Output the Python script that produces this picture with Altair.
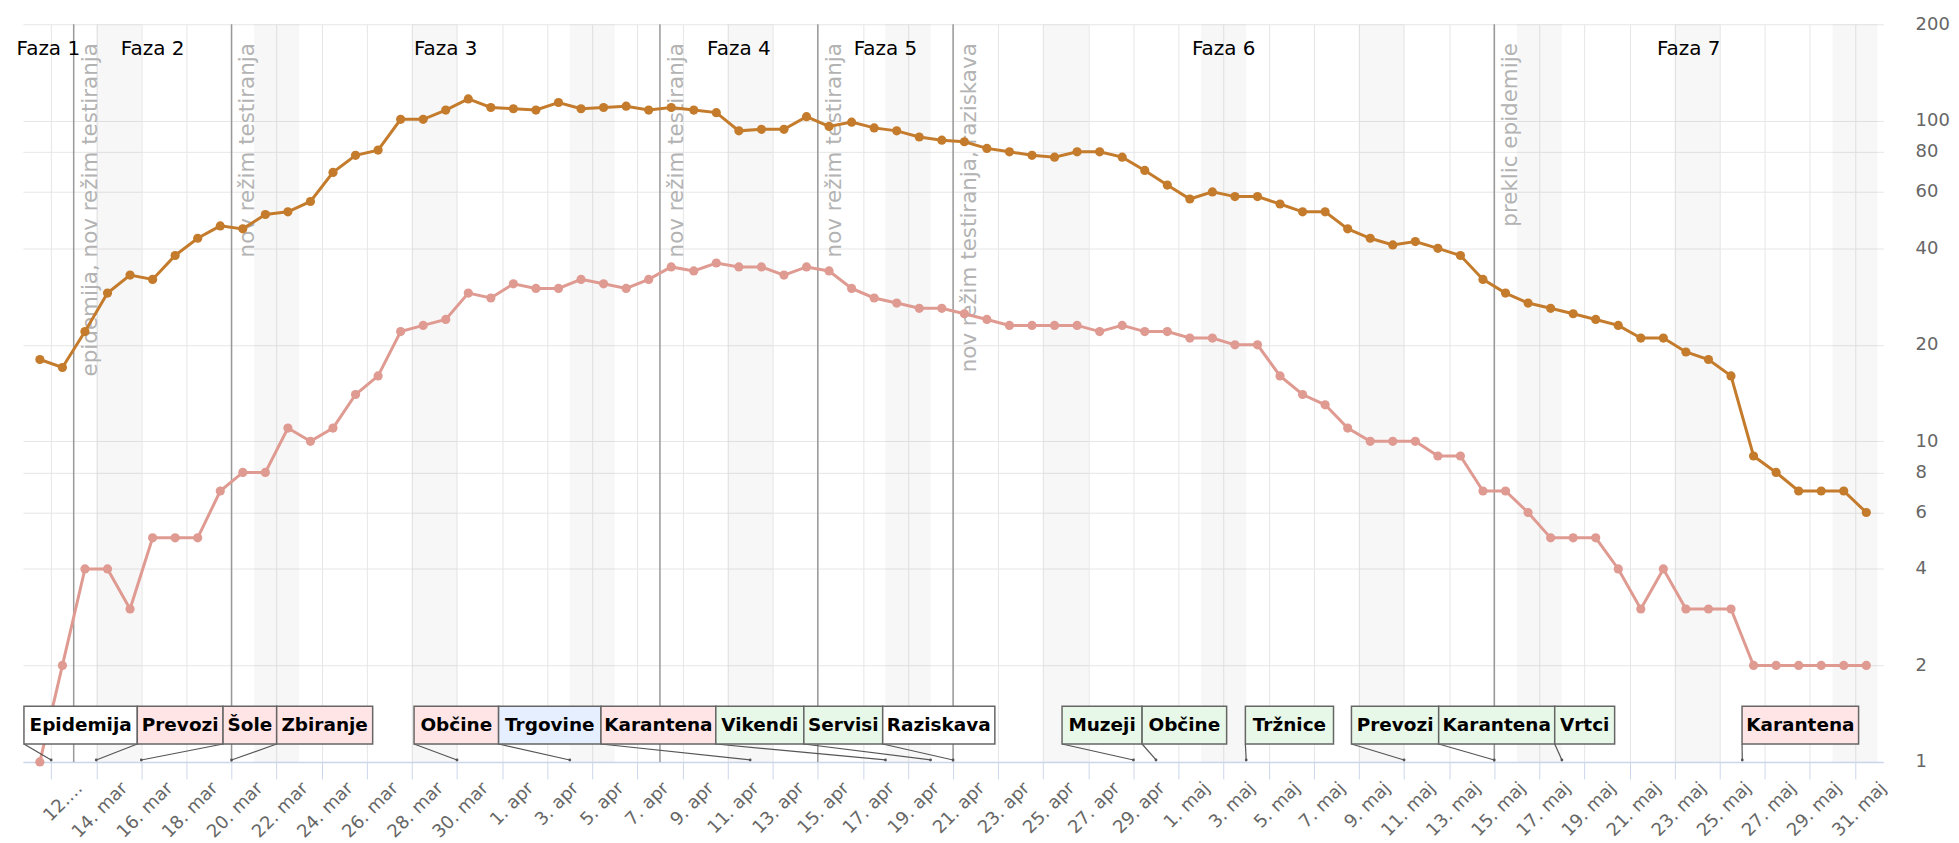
import json
import altair as alt
import pandas as pd

# ---------------- data ----------------
dates = pd.date_range("2020-03-11", "2020-05-31", freq="D")  # 82 days

hospitalizirani = [18, 17, 22, 29, 33, 32, 38, 43, 47, 46,
                   51, 52, 56, 69, 78, 81, 101, 101, 108, 117,
                   110, 109, 108, 114, 109, 110, 111, 108, 110, 108,
                   106, 93, 94, 94, 103, 96, 99, 95, 93, 89,
                   87, 86, 82, 80, 78, 77, 80, 80, 77, 70,
                   63, 57, 60, 58, 58, 55, 52, 52, 46, 43,
                   41, 42, 40, 38, 32, 29, 27, 26, 25, 24,
                   23, 21, 21, 19, 18, 16, 9, 8, 7, 7,
                   7, 6]
intenzivna = [1, 2, 4, 4, 3, 5, 5, 5, 7, 8,
              8, 11, 10, 11, 14, 16, 22, 23, 24, 29,
              28, 31, 30, 30, 32, 31, 30, 32, 35, 34,
              36, 35, 35, 33, 35, 34, 30, 28, 27, 26,
              26, 25, 24, 23, 23, 23, 23, 22, 23, 22,
              22, 21, 21, 20, 20, 16, 14, 13, 11, 10,
              10, 10, 9, 9, 7, 7, 6, 5, 5, 5,
              4, 3, 4, 3, 3, 3, 2, 2, 2, 2,
              2, 2]
serije = ["Hospitalizirani", "Intenzivna nega"]

crta_datumi = ["2020-03-13", "2020-03-20", "2020-04-08", "2020-04-15", "2020-04-21", "2020-05-15"]
crta_oznake = ["epidemija, nov režim testiranja", "nov režim testiranja", "nov režim testiranja",
               "nov režim testiranja", "nov režim testiranja, raziskava", "preklic epidemije"]
faze = ["Faza 1", "Faza 2", "Faza 3", "Faza 4", "Faza 5", "Faza 6", "Faza 7"]

ukrep_oznake = ["Epidemija", "Prevozi", "Šole", "Zbiranje", "Občine", "Trgovine", "Karantena",
                "Vikendi", "Servisi", "Raziskava", "Muzeji", "Občine", "Tržnice", "Prevozi",
                "Karantena", "Vrtci", "Karantena"]
ukrep_datumi = ["2020-03-12", "2020-03-14", "2020-03-16", "2020-03-20", "2020-03-30", "2020-04-04",
                "2020-04-12", "2020-04-18", "2020-04-20", "2020-04-21", "2020-04-29", "2020-04-30",
                "2020-05-04", "2020-05-11", "2020-05-15", "2020-05-18", "2020-05-26"]
ukrep_vrsta = ["info", "omejitev", "omejitev", "omejitev", "omejitev", "trgovine", "omejitev",
               "sprostitev", "sprostitev", "info", "sprostitev", "sprostitev", "sprostitev",
               "sprostitev", "sprostitev", "sprostitev", "omejitev"]

meseci = ["jan", "feb", "mar", "apr", "maj", "jun"]
tick_dates = pd.date_range("2020-03-12", "2020-05-31", freq="2D")
tick_labels = [f"{d.day}. {meseci[d.month - 1]}" for d in tick_dates]
tick_labels[0] = "12.…"

y_ticks = [1, 2, 4, 6, 8, 10, 20, 40, 60, 80, 100, 200]

# ---------------- layout (label placement) ----------------
W, H = 1866, 740
t0 = pd.Timestamp("2020-03-10 18:00")
t1 = pd.Timestamp("2020-06-01 06:00")
# annotation box edges in plot pixels (label layout)
box_levo = [1.0, 114.7, 200.7, 254.5, 392.3, 477.1, 579.8, 695.0, 783.3, 862.4,
            1042.3, 1122.6, 1226.2, 1332.6, 1420.1, 1536.5, 1724.4]
box_desno = [114.7, 200.7, 254.5, 350.8, 477.1, 579.8, 695.0, 783.3, 862.4, 974.9,
             1122.6, 1207.4, 1314.6, 1420.1, 1536.5, 1596.6, 1841.3]


def iso(t):
    return pd.Timestamp(t).strftime("%Y-%m-%dT%H:%M:%S")


def px_to_time(px):
    return t0 + (t1 - t0) * (px / W)


# ---------------- frames ----------------
rows = []
for s, vals in zip(serije, [hospitalizirani, intenzivna]):
    for d, v in zip(dates, vals):
        rows.append({"datum": iso(d + pd.Timedelta(hours=12)), "vrednost": v, "serija": s})
df = pd.DataFrame(rows)

sobote = [d for d in dates if d.weekday() == 5]
df_vikend = pd.DataFrame({"od": [iso(d) for d in sobote],
                          "do": [iso(d + pd.Timedelta(days=2)) for d in sobote]})

df_crte = pd.DataFrame({"datum": [iso(d) for d in crta_datumi], "oznaka": crta_oznake})

meje = [t0] + [pd.Timestamp(d) for d in crta_datumi] + [t1]
df_faze = pd.DataFrame({"sredina": [iso(meje[i] + (meje[i + 1] - meje[i]) / 2) for i in range(len(faze))],
                        "faza": faze})

df_ukrepi = pd.DataFrame({
    "naziv": ukrep_oznake,
    "dogodek": [iso(d) for d in ukrep_datumi],
    "vrsta": ukrep_vrsta,
    "levo": [iso(px_to_time(p)) for p in box_levo],
    "desno": [iso(px_to_time(p)) for p in box_desno],
    "sredina": [iso(px_to_time((a + b) / 2)) for a, b in zip(box_levo, box_desno)],
})

# ---------------- scales / axes ----------------
x_scale = alt.Scale(domain=[alt.DateTime(year=2020, month=3, date=10, hours=18),
                            alt.DateTime(year=2020, month=6, date=1, hours=6)])
label_expr = (json.dumps(tick_labels, ensure_ascii=False)
              + "[round((datum.value - time(datetime(2020, 2, 12))) / 172800000)]")
x_axis = alt.Axis(values=[alt.DateTime(year=d.year, month=d.month, date=d.day) for d in tick_dates],
                  labelExpr=label_expr, labelAngle=-45, labelFontSize=18, labelColor="#666666",
                  labelOffset=22, labelPadding=0, labelOverlap=False, labelFlush=False,
                  grid=True, gridColor="#e6e6e6", gridWidth=1,
                  domainColor="#ccd6eb", domainWidth=1.5, tickColor="#ccd6eb", tickSize=17,
                  title=None)
y_scale = alt.Scale(type="log", domain=[1, 200])
y_axis = alt.Axis(orient="right", values=y_ticks, format="d", grid=True, gridColor="#e6e6e6",
                  ticks=False, tickSize=0, domain=False, labelPadding=32, labelFontSize=18,
                  labelColor="#666666", labelAlign="left", labelOverlap=False, labelFlush=False,
                  title=None)


def X(field):
    return alt.X(field, scale=x_scale, axis=x_axis, title=None)


bands = alt.Chart(df_vikend).mark_rect(color="#000000", opacity=0.03).encode(
    x=X("od:T"), x2="do:T", y=alt.value(0), y2=alt.value(H))

crte = alt.Chart(df_crte).mark_rule(color="#999999", strokeWidth=1.5).encode(x=X("datum:T"))

crte_txt = alt.Chart(df_crte).mark_text(angle=270, align="right", baseline="alphabetic", dy=23,
                                        fontSize=21.5, color="#b3b3b3").encode(
    x=X("datum:T"), y=alt.value(19), text="oznaka:N")

faze_txt = alt.Chart(df_faze).mark_text(fontSize=20, color="#000000", align="center",
                                        baseline="alphabetic").encode(
    x=X("sredina:T"), y=alt.value(31), text="faza:N")

color = alt.Color("serija:N", scale=alt.Scale(domain=serije, range=["#c47b2b", "#df9a91"]), legend=None)
base = alt.Chart(df).encode(x=X("datum:T"),
                            y=alt.Y("vrednost:Q", scale=y_scale, axis=y_axis, title=None),
                            color=color)
lines = base.mark_line(strokeWidth=3)
points = base.mark_circle(size=85, opacity=1)

conn = alt.Chart(df_ukrepi).mark_rule(color="#555555", strokeWidth=1.2).encode(
    x=X("levo:T"), x2="dogodek:T", y=alt.value(722), y2=alt.value(738))
conn_end = alt.Chart(df_ukrepi).mark_circle(size=8, color="#555555", opacity=1).encode(
    x=X("dogodek:T"), y=alt.value(738))
boxes = alt.Chart(df_ukrepi).mark_rect(stroke="#666666", strokeWidth=1.5).encode(
    x=X("levo:T"), x2="desno:T", y=alt.value(684), y2=alt.value(722),
    fill=alt.Fill("vrsta:N", scale=alt.Scale(domain=["info", "omejitev", "trgovine", "sprostitev"],
                                             range=["#ffffff", "#ffe5e5", "#e5efff", "#e8f8e8"]),
                  legend=None))
box_txt = alt.Chart(df_ukrepi).mark_text(font="DejaVu Sans", fontWeight="bold", fontSize=18.5,
                                         color="#000000", align="center", baseline="alphabetic").encode(
    x=X("sredina:T"), y=alt.value(709), text="naziv:N")

chart = alt.layer(bands, crte, crte_txt, faze_txt, lines, points, conn, conn_end, boxes, box_txt).properties(
    width=W, height=H, padding={"left": 8, "top": 6, "right": 1, "bottom": 0}
).configure(font="DejaVu Sans").configure_view(stroke=None)

chart.save("out.html", embed_options={"renderer": "svg", "actions": False})
